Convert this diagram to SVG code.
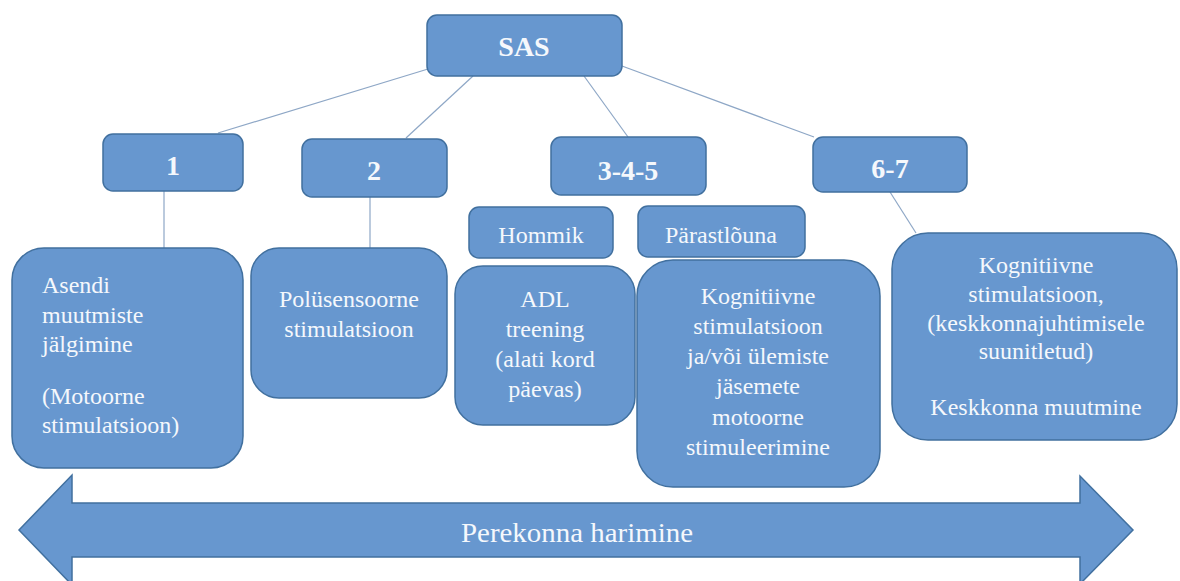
<svg xmlns="http://www.w3.org/2000/svg" width="1180" height="581" viewBox="0 0 1180 581" font-family="Liberation Serif, Times New Roman, serif">
<style>
.box{fill:#6797cf;stroke:#41709f;stroke-width:1.5}
.t{font-size:24px;fill:#f5f8fc}
.c{text-anchor:middle}
.b{font-weight:bold;font-size:28px}
.ln{stroke:#8ea7c6;stroke-width:1.2;fill:none}
</style>
<rect width="1180" height="581" fill="#ffffff"/>
<g id="connectors">
<line class="ln" x1="428" y1="69" x2="218" y2="133"/>
<line class="ln" x1="473" y1="76" x2="406" y2="138"/>
<line class="ln" x1="584" y1="76" x2="628" y2="137"/>
<line class="ln" x1="622" y1="66" x2="814" y2="137"/>
<line class="ln" x1="164" y1="191" x2="164" y2="248"/>
<line class="ln" x1="370" y1="197" x2="370" y2="248"/>
<line class="ln" x1="890" y1="192" x2="916" y2="233"/>
</g>
<g id="sas">
<rect class="box" x="427" y="15" width="195" height="61" rx="10"/>
<text class="t c b" x="524" y="56">SAS</text>
</g>
<g id="n1">
<rect class="box" x="103" y="134" width="140" height="57" rx="10"/>
<text class="t c b" x="173" y="175">1</text>
</g>
<g id="n2">
<rect class="box" x="302" y="139" width="145" height="58" rx="10"/>
<text class="t c b" x="374" y="180">2</text>
</g>
<g id="n345">
<rect class="box" x="551" y="137" width="155" height="58" rx="10"/>
<text class="t c b" x="628" y="180">3-4-5</text>
</g>
<g id="n67">
<rect class="box" x="813" y="137" width="154" height="55" rx="10"/>
<text class="t c b" x="890" y="178">6-7</text>
</g>
<g id="hommik">
<rect class="box" x="469" y="207" width="144" height="51" rx="10"/>
<text class="t c" x="541" y="243">Hommik</text>
</g>
<g id="parastlouna">
<rect class="box" x="638" y="206" width="167" height="51" rx="10"/>
<text class="t c" x="721" y="243">Pärastlõuna</text>
</g>
<g id="asendi">
<rect class="box" x="12" y="248" width="231" height="220" rx="32"/>
<text class="t" x="42" y="293">Asendi</text>
<text class="t" x="42" y="323">muutmiste</text>
<text class="t" x="42" y="352">jälgimine</text>
<text class="t" x="42" y="404">(Motoorne</text>
<text class="t" x="42" y="433">stimulatsioon)</text>
</g>
<g id="polysensoorne">
<rect class="box" x="251" y="248" width="196" height="150" rx="28"/>
<text class="t c" x="349" y="307">Polüsensoorne</text>
<text class="t c" x="349" y="337">stimulatsioon</text>
</g>
<g id="adl">
<rect class="box" x="455" y="266" width="180" height="159" rx="28"/>
<text class="t c" x="545" y="307">ADL</text>
<text class="t c" x="545" y="337">treening</text>
<text class="t c" x="545" y="367">(alati kord</text>
<text class="t c" x="545" y="397">päevas)</text>
</g>
<g id="kognitiivne-mid">
<rect class="box" x="637" y="260" width="243" height="227" rx="36"/>
<text class="t c" x="758" y="304">Kognitiivne</text>
<text class="t c" x="758" y="334">stimulatsioon</text>
<text class="t c" x="758" y="364">ja/või ülemiste</text>
<text class="t c" x="758" y="394">jäsemete</text>
<text class="t c" x="758" y="425">motoorne</text>
<text class="t c" x="758" y="455">stimuleerimine</text>
</g>
<g id="kognitiivne-right">
<rect class="box" x="892" y="233" width="285" height="207" rx="36"/>
<text class="t c" x="1036" y="273">Kognitiivne</text>
<text class="t c" x="1036" y="302">stimulatsioon,</text>
<text class="t c" x="1036" y="331">(keskkonnajuhtimisele</text>
<text class="t c" x="1036" y="359">suunitletud)</text>
<text class="t c" x="1036" y="415">Keskkonna muutmine</text>
</g>
<g id="perekonna">
<polygon class="box" points="19,530 72,475 72,503 1080,503 1080,476 1133,530 1080,584 1080,557 72,557 72,585"/>
<text class="t c" x="577" y="542" style="font-size:28px" textLength="232" lengthAdjust="spacingAndGlyphs">Perekonna harimine</text>
</g>
</svg>
